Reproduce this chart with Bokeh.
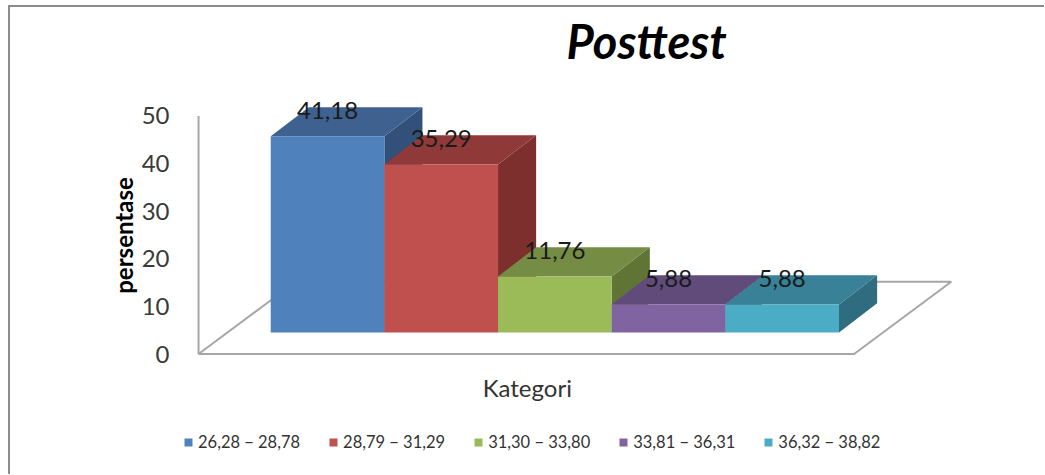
from bokeh.plotting import figure
from bokeh.models import Range1d, Legend, LegendItem, ColumnDataSource, FixedTicker
from bokeh.core.properties import value
from bokeh.embed import file_html
from bokeh.resources import INLINE

TITLE = "Posttest"
X_LABEL = "Kategori"
Y_LABEL = "persentase"
categories = ["26,28 − 28,78", "28,79 − 31,29", "31,30 − 33,80", "33,81 − 36,31", "36,32 − 38,82"]
values = [41.18, 35.29, 11.76, 5.88, 5.88]
labels = ["41,18", "35,29", "11,76", "5,88", "5,88"]
y_ticks = [0, 10, 20, 30, 40, 50]

front_colors = ["#4F81BD", "#C0504D", "#9BBB59", "#8064A2", "#4BACC6"]
top_colors = ["#3F618F", "#8F3A39", "#748C43", "#604B7A", "#388196"]
side_colors = ["#33507A", "#7D2F2E", "#5F7435", "#4F3E65", "#2F6C80"]

FONT = "Lato"
PX_X = 113.4    # pixels per category
PX_Y = 4.74     # pixels per unit of value
AXIS_PX = 199   # page x of the drawn value axis
FIRST_PX = 271  # page x of the first bar
ZERO_PX = 353   # page y of value 0
FRAME_LEFT = 180
FRAME_TOP = 8
FRAME_BOTTOM = 462
PAGE_RIGHT = 1045
PAGE_BOTTOM = 475
BORDER = "2px solid #8c8c8c"

def dx(px):
    return px / PX_X

def dy(px):
    return px / PX_Y

base = dy(ZERO_PX - 331.5)
depth_x, depth_y = dx(38), dy(29)

p = figure(width=PAGE_RIGHT - 11, height=PAGE_BOTTOM - FRAME_TOP, output_backend="svg", toolbar_location=None,
           x_range=Range1d(dx(FRAME_LEFT - FIRST_PX), dx(PAGE_RIGHT - FIRST_PX)),
           y_range=Range1d(dy(ZERO_PX - FRAME_BOTTOM), dy(ZERO_PX - FRAME_TOP)),
           x_axis_type=None, background_fill_color="white", border_fill_color="white",
           min_border_left=FRAME_LEFT - 11, min_border_right=0, min_border_top=0,
           min_border_bottom=PAGE_BOTTOM - FRAME_BOTTOM,
           outline_line_color=None, sizing_mode="fixed")
p.margin = (5, 0, 0, 8)
p.styles = {"border-top": BORDER, "border-left": BORDER, "box-sizing": "content-box"}
p.grid.visible = False

ax = p.yaxis[0]
ax.ticker = FixedTicker(ticks=y_ticks)
ax.axis_line_color = None
ax.major_tick_line_color = None
ax.minor_tick_line_color = None
ax.major_label_standoff = 4
ax.major_label_text_font = FONT
ax.major_label_text_font_size = "24px"
ax.major_label_text_color = "#3a3a3a"
ax.axis_label = Y_LABEL
ax.axis_label_text_font = FONT
ax.axis_label_text_font_style = "bold"
ax.axis_label_text_font_size = "24px"
ax.axis_label_text_color = "black"
ax.axis_label_standoff = 1

# floor and value axis of the 3-D chart
left, right = dx(AXIS_PX - FIRST_PX), dx(853 - FIRST_PX)
fd_x, fd_y = dx(97), dy(72)
p.patch([left, right, right + fd_x, left + fd_x], [0, 0, fd_y, fd_y],
        fill_color="white", line_color="#A6A6A6", line_width=2)
p.segment([left], [y_ticks[0]], [left], [y_ticks[-1]], line_color="#A6A6A6", line_width=2)

items = []
for i, (cat, v) in enumerate(zip(categories, values)):
    x0, x1 = i, i + 1
    y0, y1 = base, base + v
    p.patch([x1, x1 + depth_x, x1 + depth_x, x1], [y0, y0 + depth_y, y1 + depth_y, y1],
            fill_color=side_colors[i], line_color=None)
    p.patch([x0, x1, x1 + depth_x, x0 + depth_x], [y1, y1, y1 + depth_y, y1 + depth_y],
            fill_color=top_colors[i], line_color=None)
    r = p.patch([x0, x1, x1, x0], [y0, y0, y1, y1], fill_color=front_colors[i], line_color=None)
    items.append(LegendItem(label=cat, renderers=[r]))

src = ColumnDataSource(dict(x=[i + 0.5 for i in range(len(values))],
                            y=[base + v + dy(26) for v in values],
                            t=labels))
p.text("x", "y", text="t", source=src, text_align="center", text_baseline="middle",
       text_font=value(FONT), text_font_size="24px", text_color="#1a1a1a")

p.text([dx(646 - FIRST_PX)], [dy(ZERO_PX - 41)], text=[TITLE], text_align="center", text_baseline="middle",
       text_font=value(FONT), text_font_size="47px", text_font_style="bold italic", text_color="black")
p.text([dx(527 - FIRST_PX)], [dy(ZERO_PX - 386)], text=[X_LABEL], text_align="center", text_baseline="middle",
       text_font=value(FONT), text_font_size="24px", text_color="#333333")

legend = Legend(items=items, orientation="horizontal", location=(4, 11), padding=0, margin=0,
                spacing=28, glyph_width=10, glyph_height=10, label_standoff=5,
                label_text_font=FONT, label_text_font_size="16.5px", label_text_color="#333333",
                border_line_color=None, background_fill_alpha=0)
p.add_layout(legend, "center")

open("out.html", "w").write(file_html(p, INLINE))
